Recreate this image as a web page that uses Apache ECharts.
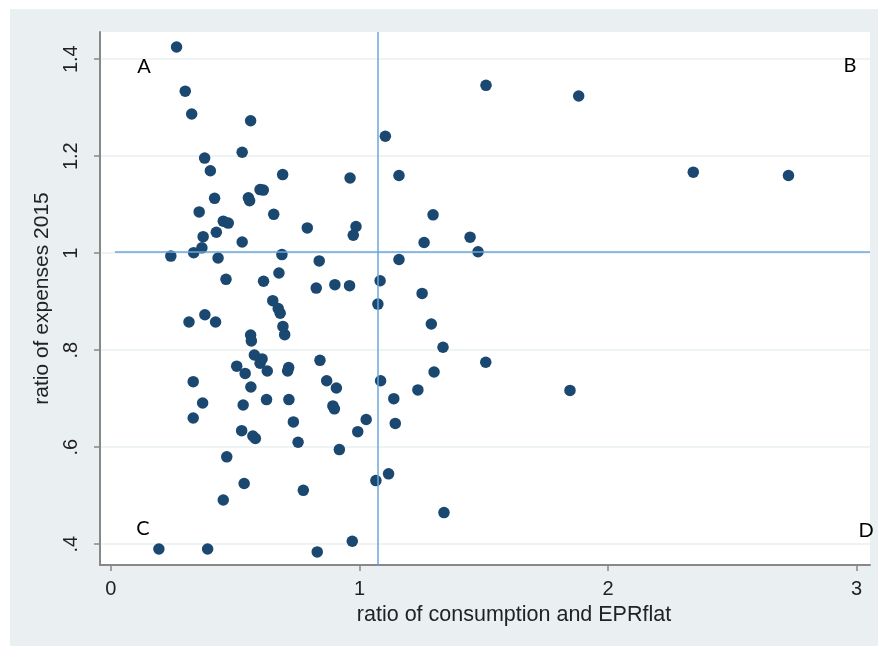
<!DOCTYPE html>
<html><head><meta charset="utf-8">
<script src="https://cdn.jsdelivr.net/npm/echarts@6/dist/echarts.min.js"></script>
<style>html,body{margin:0;padding:0;background:#fff}#c{width:878px;height:646px}</style>
</head><body><div id="c"></div>
<script>
// ratio of consumption and EPRflat
const consumptionRatio = [0.264,0.299,0.325,0.562,1.104,0.377,0.528,0.400,0.691,0.962,1.159,0.417,0.553,0.558,0.600,0.613,0.355,0.655,0.452,0.472,0.790,0.986,0.975,0.424,0.371,0.366,0.333,0.528,0.241,0.431,0.688,0.838,1.159,1.083,0.463,0.614,0.676,0.826,0.901,0.960,0.651,0.673,0.681,1.074,0.314,0.378,0.421,0.562,0.565,0.692,0.699,0.577,0.608,0.600,0.506,0.540,0.629,0.715,0.711,0.841,0.331,0.563,0.868,0.907,1.085,1.138,0.369,0.532,0.626,0.716,0.893,0.899,0.331,0.734,1.027,0.993,1.144,0.526,0.571,0.581,0.753,0.919,0.466,0.536,1.117,1.066,0.774,0.452,0.971,0.193,0.389,0.830,1.509,1.882,1.296,1.260,1.445,1.477,1.252,1.289,1.336,1.508,1.300,1.235,1.847,1.340,2.343,2.726];
// ratio of expenses 2015
const expensesRatio = [1.425,1.334,1.287,1.273,1.241,1.196,1.208,1.170,1.162,1.155,1.160,1.113,1.114,1.108,1.131,1.130,1.085,1.080,1.066,1.062,1.052,1.055,1.037,1.043,1.034,1.011,1.001,1.023,0.994,0.990,0.997,0.984,0.987,0.943,0.946,0.942,0.959,0.928,0.935,0.933,0.902,0.886,0.876,0.895,0.858,0.873,0.858,0.831,0.819,0.849,0.832,0.790,0.782,0.773,0.767,0.752,0.757,0.764,0.757,0.779,0.735,0.724,0.737,0.722,0.737,0.700,0.691,0.687,0.698,0.698,0.685,0.679,0.660,0.652,0.657,0.632,0.649,0.634,0.623,0.618,0.610,0.595,0.580,0.525,0.545,0.531,0.511,0.491,0.406,0.390,0.390,0.384,1.346,1.324,1.079,1.022,1.033,1.003,0.917,0.854,0.806,0.775,0.755,0.718,0.717,0.465,1.167,1.160];
const xTickValues = [0,1,2,3];
const xTickLabels = ['0','1','2','3'];
const yTickValues = [0.4,0.6,0.8,1.0,1.2,1.4];
const yTickLabels = ['.4','.6','.8','1','1.2','1.4'];
const refX = 1.074;
const refY = 1.003;
const quadrantLabels = ['A','B','C','D'];

const xMin = -0.044, xMax = 3.054, yMin = 0.357, yMax = 1.456;
const points = consumptionRatio.map((x,i)=>[x, expensesRatio[i]]);
const fmt = (vals, labs) => v => { for (let i=0;i<vals.length;i++) if (Math.abs(vals[i]-v)<1e-6) return labs[i]; return ''; };
const tickFont = {fontFamily:'Liberation Sans, Arial, sans-serif', fontSize:20, color:'#222'};
const refLine = {color:'#6aa6dc', width:1.5, type:'solid', opacity:1};
const letterFont = '20px Lato, "Open Sans", sans-serif';

const chart = echarts.init(document.getElementById('c'), null, {renderer:'canvas'});
chart.setOption({
  animation:false,
  backgroundColor:'#ffffff',
  graphic:[
    {type:'rect', z:-10, shape:{x:10,y:9,width:868,height:637}, style:{fill:'#eaf0f2'}},
    {type:'text', z:10, x:144, y:67, style:{text:quadrantLabels[0], font:letterFont, fill:'#000', align:'center', verticalAlign:'middle'}},
    {type:'text', z:10, x:850, y:66, style:{text:quadrantLabels[1], font:letterFont, fill:'#000', align:'center', verticalAlign:'middle'}},
    {type:'text', z:10, x:143, y:529, style:{text:quadrantLabels[2], font:letterFont, fill:'#000', align:'center', verticalAlign:'middle'}},
    {type:'text', z:10, x:866, y:531, style:{text:quadrantLabels[3], font:letterFont, fill:'#000', align:'center', verticalAlign:'middle'}}
  ],
  grid:{left:100, top:32, right:8, bottom:81, show:true, backgroundColor:'#ffffff', borderWidth:0},
  xAxis:{
    type:'value', min:xMin, max:xMax,
    name:'ratio of consumption and EPRflat', nameLocation:'middle', nameGap:26,
    nameTextStyle:{fontFamily:'Liberation Sans, Arial, sans-serif', fontSize:21.5, color:'#222', padding:[0,0,0,58]},
    axisLine:{show:true, onZero:false, lineStyle:{color:'#888', width:2}},
    axisTick:{show:true, length:6, lineStyle:{color:'#888', width:1.5}, customValues:xTickValues},
    axisLabel:Object.assign({}, tickFont, {margin:14, customValues:xTickValues, formatter:fmt(xTickValues,xTickLabels)}),
    splitLine:{show:false}
  },
  yAxis:{
    type:'value', min:yMin, max:yMax,
    name:'ratio of expenses 2015', nameLocation:'middle', nameGap:40, nameRotate:90,
    nameTextStyle:{fontFamily:'Liberation Sans, Arial, sans-serif', fontSize:21, color:'#222'},
    axisLine:{show:true, onZero:false, lineStyle:{color:'#888', width:2}},
    axisTick:{show:true, length:6, lineStyle:{color:'#888', width:1.5}, customValues:yTickValues},
    axisLabel:Object.assign({}, tickFont, {rotate:90, margin:19, customValues:yTickValues, formatter:fmt(yTickValues,yTickLabels)}),
    splitLine:{show:true, lineStyle:{color:'#eef3f3', width:2}}
  },
  series:[{
    type:'scatter',
    data:points,
    symbol:'circle',
    symbolSize:11.5,
    itemStyle:{color:'#1b4870', opacity:1},
    markLine:{
      silent:true, symbol:['none','none'], label:{show:false},
      lineStyle:refLine,
      emphasis:{disabled:true},
      data:[
        [{coord:[refX,yMax], lineStyle:refLine},{coord:[refX,yMin]}],
        [{coord:[0.016,refY], lineStyle:refLine},{coord:[xMax,refY]}]
      ]
    }
  }]
});
</script></body></html>
